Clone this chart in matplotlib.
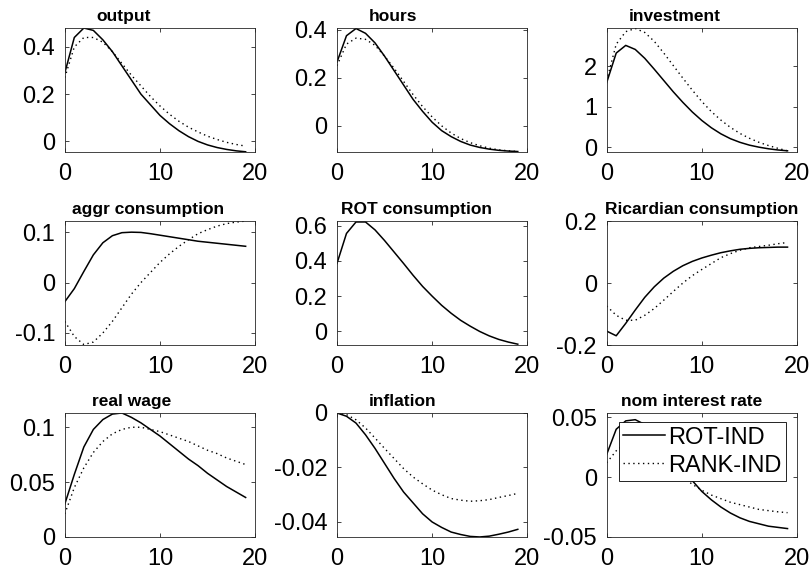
import matplotlib
matplotlib.use("Agg")
import matplotlib.pyplot as plt
from matplotlib.ticker import FuncFormatter

plt.rcParams['font.family'] = ['Liberation Sans', 'DejaVu Sans']

t = list(range(20))

titles = ["output", "hours", "investment",
          "aggr consumption", "ROT consumption", "Ricardian consumption",
          "real wage", "inflation", "nom interest rate"]

# ROT-IND responses
rot_output = [0.29, 0.44, 0.48, 0.47, 0.43, 0.38, 0.32, 0.26, 0.20, 0.155,
              0.11, 0.075, 0.045, 0.02, 0.0, -0.015, -0.026, -0.034, -0.04, -0.044]
rot_hours = [0.265, 0.375, 0.405, 0.385, 0.345, 0.29, 0.23, 0.17, 0.11, 0.06,
             0.015, -0.02, -0.045, -0.065, -0.08, -0.09, -0.097, -0.102, -0.105, -0.107]
rot_invest = [1.6, 2.33, 2.52, 2.42, 2.2, 1.93, 1.65, 1.37, 1.11, 0.87,
              0.66, 0.48, 0.33, 0.21, 0.12, 0.05, 0.0, -0.04, -0.07, -0.09]
rot_aggr_c = [-0.038, -0.012, 0.022, 0.055, 0.079, 0.093, 0.099, 0.1, 0.0995, 0.097,
              0.094, 0.091, 0.088, 0.085, 0.082, 0.08, 0.078, 0.076, 0.074, 0.072]
rot_rot_c = [0.385, 0.555, 0.62, 0.62, 0.575, 0.515, 0.45, 0.385, 0.318, 0.255,
             0.2, 0.148, 0.103, 0.063, 0.03, 0.0, -0.025, -0.045, -0.06, -0.072]
rot_ric_c = [-0.155, -0.17, -0.13, -0.087, -0.046, -0.012, 0.016, 0.038, 0.056, 0.07,
             0.081, 0.09, 0.098, 0.104, 0.109, 0.112, 0.114, 0.115, 0.116, 0.116]
rot_wage = [0.03, 0.057, 0.082, 0.098, 0.107, 0.112, 0.113, 0.109, 0.104, 0.098,
            0.092, 0.085, 0.078, 0.071, 0.065, 0.058, 0.052, 0.046, 0.041, 0.036]
rot_infl = [0.0, -0.0012, -0.0037, -0.008, -0.013, -0.0185, -0.024, -0.029, -0.033, -0.037,
            -0.04, -0.042, -0.0437, -0.0446, -0.0453, -0.0455, -0.0452, -0.0445, -0.0437, -0.0427]
rot_rate = [0.019, 0.04, 0.047, 0.048, 0.044, 0.037, 0.028, 0.018, 0.007, -0.003,
            -0.012, -0.019, -0.025, -0.03, -0.034, -0.037, -0.039, -0.041, -0.042, -0.043]

# RANK-IND responses (no ROT consumption in RANK)
rank_output = [0.27, 0.40, 0.44, 0.44, 0.42, 0.38, 0.33, 0.28, 0.235, 0.19,
               0.15, 0.115, 0.085, 0.06, 0.04, 0.022, 0.008, -0.004, -0.013, -0.02]
rank_hours = [0.25, 0.34, 0.365, 0.36, 0.335, 0.29, 0.24, 0.185, 0.13, 0.08,
              0.037, 0.0, -0.03, -0.053, -0.07, -0.083, -0.093, -0.1, -0.104, -0.107]
rank_invest = [1.65, 2.55, 2.86, 2.94, 2.84, 2.62, 2.33, 2.02, 1.71, 1.41,
               1.13, 0.88, 0.67, 0.49, 0.34, 0.22, 0.12, 0.04, -0.03, -0.09]
rank_aggr_c = [-0.077, -0.107, -0.123, -0.118, -0.1, -0.077, -0.05, -0.023, 0.0, 0.02,
               0.04, 0.057, 0.072, 0.085, 0.097, 0.105, 0.112, 0.117, 0.12, 0.122]
rank_ric_c = [-0.074, -0.104, -0.12, -0.12, -0.104, -0.082, -0.055, -0.027, 0.0, 0.024,
              0.044, 0.063, 0.082, 0.095, 0.106, 0.114, 0.118, 0.122, 0.127, 0.131]
rank_wage = [0.021, 0.045, 0.063, 0.077, 0.087, 0.094, 0.098, 0.1, 0.1, 0.098,
             0.096, 0.093, 0.09, 0.087, 0.083, 0.079, 0.076, 0.072, 0.069, 0.066]
rank_infl = [0.0, -0.0006, -0.0025, -0.0055, -0.0092, -0.013, -0.0167, -0.0204, -0.0235, -0.026,
             -0.0283, -0.030, -0.0314, -0.032, -0.0324, -0.0322, -0.0318, -0.031, -0.0303, -0.0295]
rank_rate = [0.012, 0.022, 0.028, 0.03, 0.028, 0.022, 0.015, 0.007, 0.0, -0.006,
             -0.011, -0.015, -0.018, -0.021, -0.023, -0.025, -0.027, -0.028, -0.029, -0.0297]

rot_all = [rot_output, rot_hours, rot_invest, rot_aggr_c, rot_rot_c, rot_ric_c,
           rot_wage, rot_infl, rot_rate]
rank_all = [rank_output, rank_hours, rank_invest, rank_aggr_c, None, rank_ric_c,
            rank_wage, rank_infl, rank_rate]

ylims = [(-0.045, 0.48), (-0.109, 0.407), (-0.12, 2.95),
         (-0.124, 0.122), (-0.077, 0.625), (-0.2, 0.2),
         (0, 0.113), (-0.0455, 0.0), (-0.05, 0.0536)]
yticks = [[0, 0.2, 0.4], [0, 0.2, 0.4], [0, 1, 2],
          [-0.1, 0, 0.1], [0, 0.2, 0.4, 0.6], [-0.2, 0, 0.2],
          [0, 0.05, 0.1], [-0.04, -0.02, 0], [-0.05, 0, 0.05]]

# title centres (axes fraction), as they sit in the original export
title_x = [0.31, 0.296, 0.358, 0.437, 0.42, 0.5, 0.353, 0.344, 0.447]

fig = plt.figure(figsize=(8.1, 5.78), dpi=100)
lefts = [0.080, 0.416, 0.749]
bottoms = [0.737, 0.403, 0.071]
w, h = 0.235, 0.2145

fmt = FuncFormatter(lambda v, p: "%g" % round(v, 6))

for k in range(9):
    r, c = divmod(k, 3)
    ax = fig.add_axes([lefts[c], bottoms[r], w, h])
    l1, = ax.plot(t, rot_all[k], color='black', lw=1.1, linestyle='-')
    if rank_all[k] is not None:
        l2, = ax.plot(t, rank_all[k], color='black', lw=1.0, linestyle=(0, (1, 2.5)))
    ax.set_xlim(0, 20)
    ax.set_ylim(*ylims[k])
    ax.set_xticks([0, 10, 20])
    ax.set_yticks(yticks[k])
    ax.yaxis.set_major_formatter(fmt)
    ax.tick_params(direction='in', length=3, width=0.6, labelsize=17,
                   top=True, right=True, colors='#262626', labelcolor='black')
    ax.tick_params(axis='x', pad=8)
    ax.tick_params(axis='y', pad=7)
    for s in ax.spines.values():
        s.set_linewidth(0.6)
        s.set_color('#262626')
    ax.set_title(titles[k], fontsize=12.5, fontweight='bold', pad=5, x=title_x[k])
    if k == 8:
        leg = ax.legend([l1, l2], ["ROT-IND", "RANK-IND"], loc='upper left',
                        bbox_to_anchor=(0.063, 0.927), fontsize=17, frameon=True,
                        fancybox=False, edgecolor='black', framealpha=1,
                        handlelength=1.75, handletextpad=0.15, borderpad=0.2,
                        labelspacing=0.25, borderaxespad=0)
        leg.get_frame().set_linewidth(0.6)

fig.savefig("out.png", dpi=100)
